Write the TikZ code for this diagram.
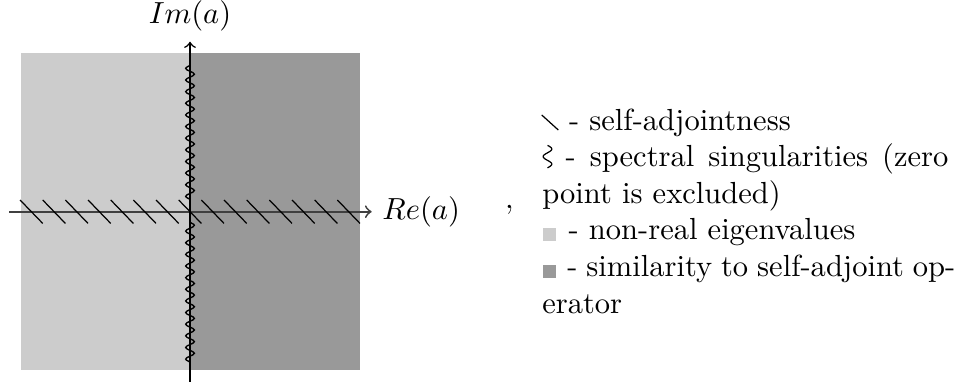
\documentclass[tikz,border=0pt]{standalone}
\usetikzlibrary{decorations.pathmorphing}

\begin{document}
\begin{tikzpicture}[
  region/.style={draw=none},
  axis/.style={->, line width=0.5pt},
  hatch/.style={line width=0.4pt},
  wave/.style={line width=0.45pt, decorate,
    decoration={snake, segment length=0.134cm, amplitude=0.05cm}},
  legend/.style={inner sep=0pt, anchor=base west},
  swatch/.style={draw=none, minimum size=0.15cm, inner sep=0pt}
 ]
\useasboundingbox (-2.189,-1.973) rectangle (9.02,2.439);

\fill[region, gray!40] (-1.950,-1.824) rectangle (0,1.825);
\fill[region, gray!80] (0,-1.824) rectangle (1.958,1.825);

\coordinate (xl) at (-2.082,0);
\coordinate (xr) at (2.093,0);
\coordinate (yb) at (0,-1.958);
\coordinate (yt) at (0,1.958);
\draw[axis, black!75, line width=0.6pt] (xl) -- (xr);
\draw[axis] (yb) -- (yt);
\node[above] (im) at (yt) {$Im(a)$};
\node[right] (re) at (xr) {$Re(a)$};

\foreach \i in {0,...,14}
  \draw[hatch] ({-1.958+0.2611*\i},0.135) -- ++(0.2611,-0.27);

\coordinate (wt1) at (0,0.135);
\coordinate (wt2) at (0,1.748);
\coordinate (wb1) at (0,-0.115);
\coordinate (wb2) at (0,-1.746);
\draw[wave] (wt1) -- (wt2);
\draw[wave] (wb1) -- (wb2);

\node[inner sep=0pt, anchor=base] (comma) at (3.68,0.04) {$,$};

\draw[hatch] (4.052,1.114) -- (4.243,0.941);
\draw[hatch, shift={(4.118,0.505)}] plot[domain=0:0.26, samples=40, smooth]
  ({0.05*sin(\x/0.26*540)}, \x);
\node[swatch, fill=gray!40] (sq1) at (4.140,-0.262) {};
\node[swatch, fill=gray!80] (sq2) at (4.140,-0.687) {};

\node[legend] (l1) at (4.36,0.941) {- self-adjointness};
\node[legend] (l2) at (4.32,0.515) {\makebox[4.41cm][s]{- spectral singularities (zero}};
\node[legend] (l3) at (4.052,0.089) {point is excluded)};
\node[legend] (l4) at (4.355,-0.326) {- non-real eigenvalues};
\node[legend] (l5) at (4.34,-0.752) {\makebox[4.47cm][s]{- similarity to self-adjoint op-}};
\node[legend] (l6) at (4.052,-1.178) {erator};
\end{tikzpicture}
\end{document}
